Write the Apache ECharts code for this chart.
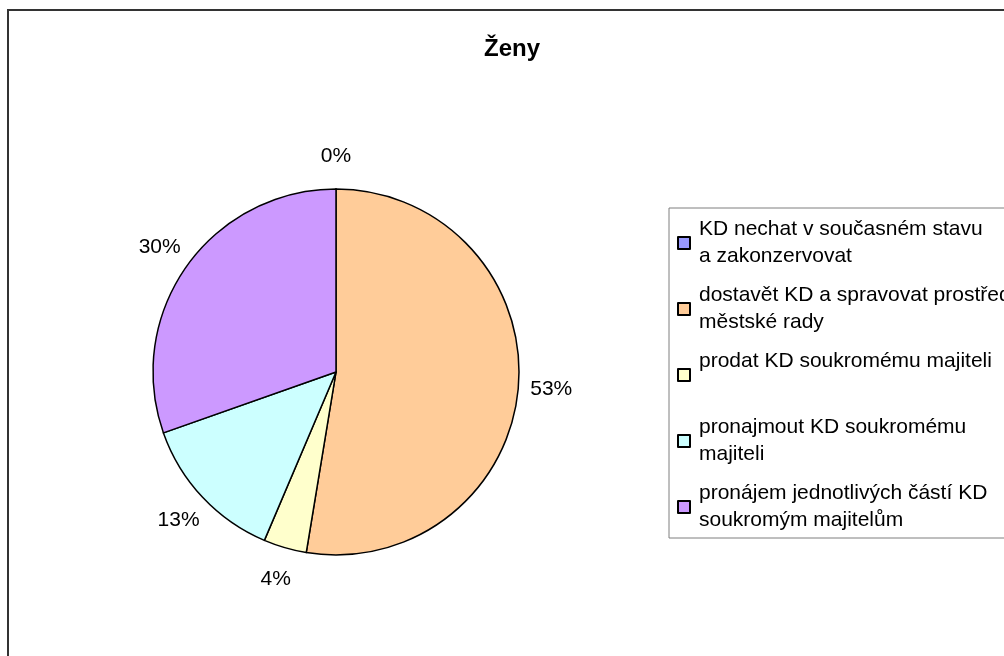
<!DOCTYPE html>
<html>
<head>
<meta charset="utf-8">
<script src="https://cdn.jsdelivr.net/npm/echarts@6/dist/echarts.min.js"></script>
<style>
  body { margin: 0; background: #fff; }
  #wrap { position: relative; width: 1004px; height: 656px; overflow: hidden; }
  /* ramecek grafu (vpravo a dole je oriznuty) */
  #frame {
    position: absolute; left: 7px; top: 9px;
    width: 1200px; height: 900px;
    border: 2px solid #333;
  }
  #chart { position: absolute; left: 0; top: 0; width: 1004px; height: 656px; }
</style>
</head>
<body>
<div id="wrap">
  <div id="frame"></div>
  <div id="chart"></div>
</div>
<script>
// data
var title = "Ženy";
var categories = [
  "KD nechat v současném stavu\na zakonzervovat",
  "dostavět KD a spravovat prostřednictvím\nměstské rady",
  "prodat KD soukromému majiteli\n ",
  "pronajmout KD soukromému\nmajiteli",
  "pronájem jednotlivých částí KD\nsoukromým majitelům"
];
var values = [0, 52.6, 3.8, 13.2, 30.4];   // procenta
var colors = ["#9999FF", "#FFCC99", "#FFFFCC", "#CCFFFF", "#CC99FF"];

var FONT = "'Liberation Sans', Arial, sans-serif";
var LABEL_GAP = 33;   // jak daleko za okrajem kolace jsou popisky

var myChart = echarts.init(document.getElementById("chart"));

var options = {
  animation: false,
  color: colors,
  title: {
    text: title,
    left: 512,
    top: 37,
    padding: 0,
    textAlign: "center",
    textStyle: { fontFamily: FONT, fontSize: 24, fontWeight: "bold", color: "#000" }
  },
  legend: {
    orient: "vertical",
    left: 669,
    top: 208,
    padding: [11, 30, 7, 8],
    itemGap: 18,
    itemWidth: 12,
    itemHeight: 12,
    icon: "rect",
    borderColor: "#7f7f7f",
    borderWidth: 1,
    borderRadius: 0,
    textStyle: {
      fontFamily: FONT,
      fontSize: 21,
      color: "#000",
      lineHeight: 27,
      height: 27,
      padding: [0, 0, 0, 4]
    },
    data: categories
  },
  series: [
    {
      type: "pie",
      center: [336, 372],
      radius: 183,
      startAngle: 90,
      clockwise: true,
      avoidLabelOverlap: false,
      itemStyle: { borderColor: "#000", borderWidth: 1.5 },
      emphasis: { disabled: true },
      label: {
        show: true,
        position: "outside",
        fontFamily: FONT,
        fontSize: 21,
        color: "#000",
        formatter: function (p) {
          return Math.round(p.value) + "%";
        }
      },
      labelLine: { show: true, length: 10, length2: 0, lineStyle: { opacity: 0 } },
      labelLayout: function (p) {
        var pts = p.labelLinePoints;
        if (!pts) return {};
        var dx = pts[1][0] - pts[0][0];
        var dy = pts[1][1] - pts[0][1];
        var len = Math.sqrt(dx * dx + dy * dy) || 1;
        return {
          x: pts[0][0] + dx / len * LABEL_GAP,
          y: pts[0][1] + dy / len * LABEL_GAP,
          align: "center",
          verticalAlign: "middle"
        };
      },
      data: categories.map(function (c, i) {
        return { name: c, value: values[i] };
      })
    }
  ]
};

myChart.setOption(options);
</script>
</body>
</html>
